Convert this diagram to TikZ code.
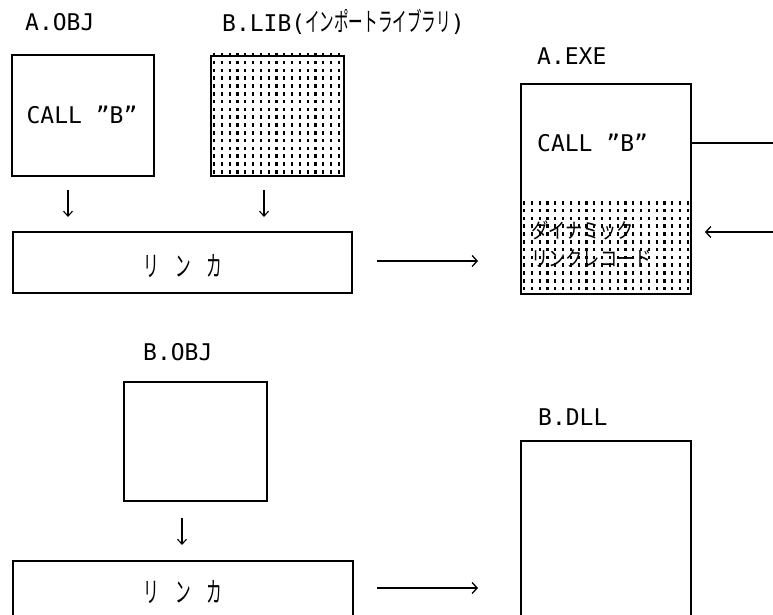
\documentclass[tikz,border=0pt]{standalone}
\usepackage{fontspec}
\setmainfont{DejaVu Sans Mono}
\newfontfamily\jp[FakeStretch=0.56]{Noto Sans CJK JP}
\newfontfamily\jpw[FakeStretch=0.82]{Noto Sans CJK JP}
\usetikzlibrary{arrows.meta}

% stipple pattern: x0, y0, last column index, last row index
\newcommand\stipple[4]{%
  \foreach \i in {0,...,#3}{%
    \foreach \j in {0,...,#4}{%
      \fill ({#1+7.8*\i},{#2+7.8*\j}) rectangle ++(2.2,3.6);}}}

\begin{document}
\begin{tikzpicture}[x=1pt,y=-1pt,
  box/.style={draw, line width=1.6pt, inner sep=0pt, rectangle, anchor=north west},
  lbl/.style={font=\fontsize{23}{26}\selectfont, inner sep=0pt, anchor=west},
  code/.style={font=\fontsize{23}{26}\selectfont, inner sep=0pt},
  linktxt/.style={font=\fontsize{28}{30}\selectfont\jp, inner sep=0pt},
  rectxt/.style={font=\fontsize{21}{24}\selectfont\jpw, inner sep=0pt, anchor=west},
  flow/.style={line width=1.3pt, -{Straight Barb[length=5pt,width=11pt]}},
  dn/.style={line width=1.1pt, -{Straight Barb[length=5pt,width=9pt]}},
]
\fill[white] (0,0) rectangle (773,615);
\clip (0,0) rectangle (773,615);

% ---- upper row: objects, import library, linker, executable
\node[lbl] (laobj) at (25,22) {A.OBJ};
\node[box, minimum width=142pt, minimum height=121pt] (aobj) at (11,54) {};
\node[code] (callA) at (82,115) {CALL "B"};

\node[lbl] (lblib) at (222,22) {B.LIB(\fontsize{26}{26}\selectfont\jp インポートライブラリ\fontsize{23}{26}\selectfont\rmfamily )};
\node[box, minimum width=133pt, minimum height=120pt] (blib) at (210,55) {};
\stipple{213}{53}{16}{15}

\coordinate (d1s) at (68,190);  \coordinate (d1e) at (68,217);
\coordinate (d2s) at (264,190); \coordinate (d2e) at (264,217);
\draw[dn] (d1s) -- (d1e);
\draw[dn] (d2s) -- (d2e);

\node[box, minimum width=339pt, minimum height=61pt] (link1) at (12,231) {};
\node[linktxt] (link1t) at (183,266) {リ　ン　カ};

\coordinate (r1s) at (377,261); \coordinate (r1e) at (478,261);
\draw[flow] (r1s) -- (r1e);

\node[lbl] (laexe) at (537,56) {A.EXE};
\node[box, minimum width=170pt, minimum height=210pt] (aexe) at (520,83) {};
\stipple{523}{201}{21}{11}
\node[code, anchor=west] (callB) at (537,143) {CALL "B"};
\node[rectxt] (dyn1) at (531,230) {ダイナミック};
\node[rectxt] (dyn2) at (531,258) {リンクレコード};

\coordinate (outR) at (773,143);
\draw[line width=1.3pt] (callB -| aexe.east) -- (outR);
\coordinate (inR) at (773,232); \coordinate (inL) at (705,232);
\draw[flow] (inR) -- (inL);

% ---- lower row: DLL object, linker, DLL
\node[lbl] (lbobj) at (143,352) {B.OBJ};
\node[box, minimum width=143pt, minimum height=119pt] (bobj) at (123,381) {};

\coordinate (d3s) at (182,518); \coordinate (d3e) at (182,545);
\draw[dn] (d3s) -- (d3e);

\node[box, minimum width=340pt, minimum height=90pt] (link2) at (12,560) {};
\node[linktxt] (link2t) at (183,592) {リ　ン　カ};

\coordinate (r2s) at (377,588); \coordinate (r2e) at (478,588);
\draw[flow] (r2s) -- (r2e);

\node[lbl] (lbdll) at (538,417) {B.DLL};
\node[box, minimum width=170pt, minimum height=230pt] (bdll) at (520,440) {};
\end{tikzpicture}
\end{document}
